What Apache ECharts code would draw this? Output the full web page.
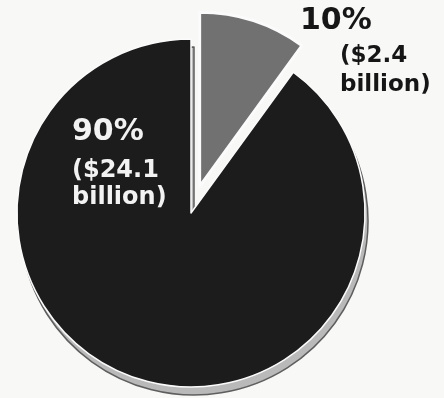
<!DOCTYPE html>
<html>
<head>
<meta charset="utf-8">
<script src="https://cdn.jsdelivr.net/npm/echarts@6/dist/echarts.min.js"></script>
<style>
html,body{margin:0;padding:0;background:#f8f8f6;}
#chart{width:444px;height:398px;}
</style>
</head>
<body>
<div id="chart"></div>
<script>
// Data
const categories = ['10%', '90%'];
const shares = [10, 90];
const amounts = ['$2.4', '$24.1'];
const unitWords = ['billion', 'billion'];

const sliceColors = ['#717171', '#1c1c1c'];
const labelColors = ['#161616', '#f2f2f2'];

function labelText(i) {
  return '{p|' + categories[i] + '}\n{b1|(' + amounts[i] + '}\n{b2|' + unitWords[i] + ')}';
}

// per-label text styles (right: 10% outside, left: 90% inside)
const richStyles = [
  { pSize: 30, pLH: 34, bSize: 23, b1LH: 36, b2LH: 22, indent: 40 },
  { pSize: 30, pLH: 54, bSize: 24, b1LH: 24, b2LH: 30, indent: 0 }
];

const pieData = categories.map((c, i) => ({
  name: c,
  value: shares[i],
  selected: i === 0,
  itemStyle: {
    color: sliceColors[i],
    borderColor: '#fbfbfb',
    borderWidth: i === 0 ? 3 : 1.5
  }
}));

const rimData = categories.map((c, i) => ({
  name: c,
  value: shares[i],
  itemStyle: i === 0
    ? { color: 'rgba(0,0,0,0)', borderWidth: 0 }
    : { color: '#b9b9b9', borderColor: '#5e5e5e', borderWidth: 1.5 }
}));

// transparent twin of the pie that carries the text labels
const labelData = categories.map((c, i) => {
  const r = richStyles[i];
  const base = { fontWeight: 'bold', fontFamily: 'DejaVu Sans', color: labelColors[i] };
  return {
    name: c,
    value: shares[i],
    itemStyle: { color: 'rgba(0,0,0,0)', borderWidth: 0 },
    label: {
      show: true,
      color: labelColors[i],
      overflow: 'none',
      formatter: () => labelText(i),
      rich: {
        p: Object.assign({}, base, { fontSize: r.pSize, lineHeight: r.pLH }),
        b1: Object.assign({}, base, { fontSize: r.bSize, lineHeight: r.b1LH, padding: [0, 0, 0, r.indent] }),
        b2: Object.assign({}, base, { fontSize: r.bSize, lineHeight: r.b2LH, padding: [0, 0, 0, r.indent] })
      }
    }
  };
});

const chart = echarts.init(document.getElementById('chart'), null, { renderer: 'canvas' });
chart.setOption({
  backgroundColor: '#f8f8f6',
  animation: false,
  series: [
    {
      type: 'pie',
      silent: true,
      z: 1,
      center: [194, 221],
      radius: 174,
      startAngle: 90,
      clockwise: true,
      label: { show: false },
      labelLine: { show: false },
      data: rimData
    },
    {
      type: 'pie',
      z: 2,
      center: [191, 213],
      radius: 174,
      startAngle: 90,
      clockwise: true,
      selectedMode: 'single',
      selectedOffset: 28,
      emphasis: { disabled: true },
      label: { show: false },
      labelLine: { show: false },
      data: pieData
    },
    {
      type: 'pie',
      silent: true,
      z: 3,
      center: [191, 213],
      radius: 174,
      startAngle: 90,
      clockwise: true,
      emphasis: { disabled: true },
      labelLine: { show: false },
      label: { show: true, position: 'outside', alignTo: 'none', overflow: 'none', edgeDistance: 0 },
      labelLayout: function (params) {
        if (params.dataIndex === 0) {
          return { x: 300, y: 4, align: 'left', verticalAlign: 'top' };
        }
        return { x: 72, y: 105, align: 'left', verticalAlign: 'top' };
      },
      data: labelData
    }
  ]
});
</script>
</body>
</html>
